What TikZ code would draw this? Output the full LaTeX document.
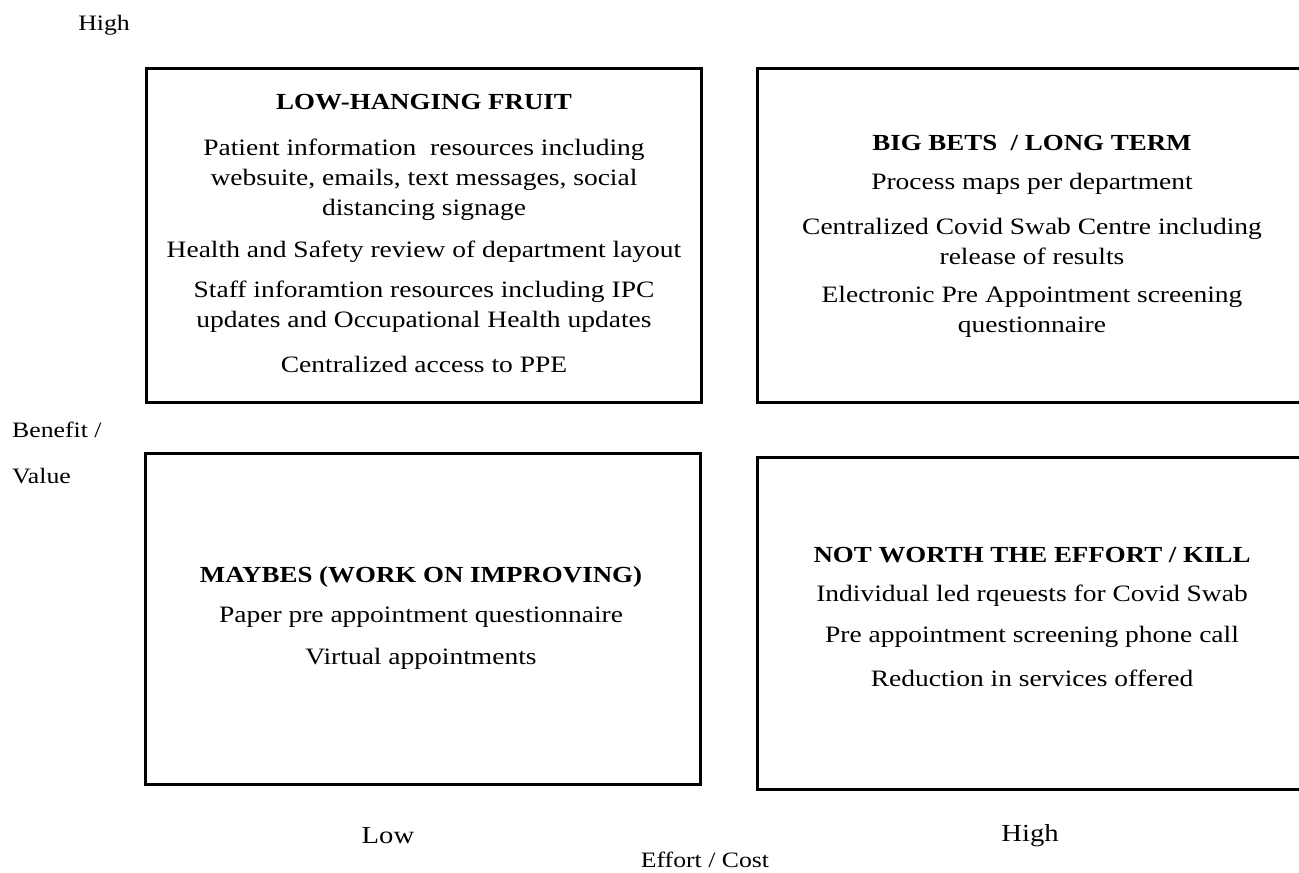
\documentclass[tikz,border=0pt]{standalone}
\usepackage{fontspec}
\setmainfont{Liberation Serif}[FakeStretch=1.17]
\begin{document}
\begin{tikzpicture}[x=1pt,y=-1pt,
  quad/.style={draw=black,line width=3pt,rectangle,inner sep=0pt},
  title/.style={font=\fontsize{23}{30}\selectfont\bfseries,align=center,inner sep=0pt},
  item/.style={font=\fontsize{23.5}{30}\selectfont,align=center,inner sep=0pt},
  axis/.style={font=\fontsize{22}{24}\selectfont,inner sep=0pt},
  level/.style={font=\fontsize{24.5}{28}\selectfont,inner sep=0pt}]
\useasboundingbox (0,0) rectangle (1299,873);
\clip (0,0) rectangle (1299,873);

% four quadrants
\node[quad,minimum width=555pt,minimum height=334pt] (q1) at (423.5,235) {};
\node[quad,minimum width=553pt,minimum height=334pt] (q2) at (1033.5,235) {};
\node[quad,minimum width=555pt,minimum height=331pt] (q3) at (422.5,618.5) {};
\node[quad,minimum width=553pt,minimum height=332pt] (q4) at (1033.5,623) {};

% low effort, high value
\node[title] (t1) at (424,102) {LOW-HANGING FRUIT};
\node[item] (a1) at (424,180) {Patient information\ \ resources including\\websuite, emails, text messages, social\\distancing signage};
\node[item] (a2) at (424,252) {Health and Safety review of department layout};
\node[item] (a3) at (424,307) {Staff inforamtion resources including IPC\\updates and Occupational Health updates};
\node[item] (a4) at (424,364) {Centralized access to PPE};

% high effort, high value
\node[title] (t2) at (1032,143) {BIG BETS\ \ / LONG TERM};
\node[item] (b1) at (1032,184) {Process maps per department};
\node[item] (b2) at (1032,241) {Centralized Covid Swab Centre including\\release of results};
\node[item] (b3) at (1032,312) {Electronic Pre Appointment screening\\questionnaire};

% low effort, low value
\node[title] (t3) at (421,577) {MAYBES (WORK ON IMPROVING)};
\node[item] (c1) at (421,617) {Paper pre appointment questionnaire};
\node[item] (c2) at (421,659) {Virtual appointments};

% high effort, low value
\node[title] (t4) at (1032,555) {NOT WORTH THE EFFORT / KILL};
\node[item] (d1) at (1032,596) {Individual led rqeuests for Covid Swab};
\node[item] (d2) at (1032,637) {Pre appointment screening phone call};
\node[item] (d3) at (1032,678) {Reduction in services offered};

% axis labels
\node[axis] (yhigh) at (104,25) {High};
\node[axis,anchor=west] (yben) at (12,430) {Benefit /};
\node[axis,anchor=west] (yval) at (12,476) {Value};
\node[level] (xlow) at (388,836) {Low};
\node[level] (xhigh) at (1030,836) {High};
\node[axis] (xeff) at (705,860) {Effort / Cost};
\end{tikzpicture}
\end{document}
